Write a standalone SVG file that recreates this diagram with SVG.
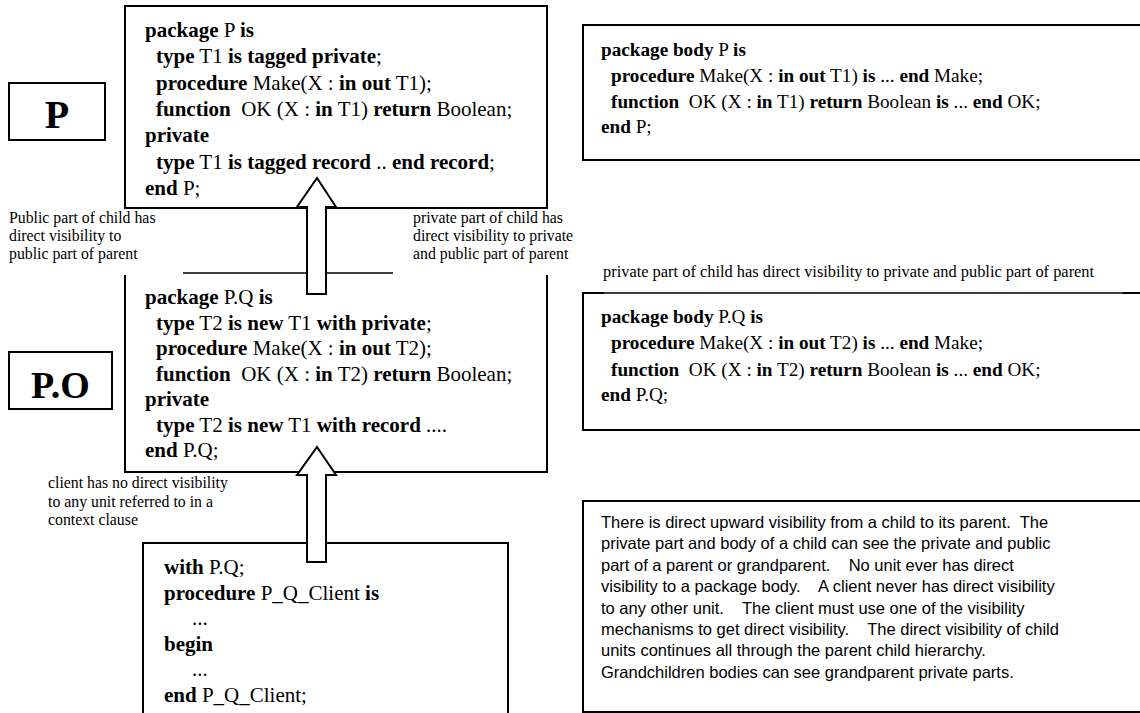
<svg xmlns="http://www.w3.org/2000/svg" width="1140" height="713" viewBox="0 0 1140 713">
<style>
.bg{fill:#fff}
.box{fill:#fff;stroke:#000;stroke-width:2}
.ln{fill:none;stroke:#000;stroke-width:2}
.ln1{fill:none;stroke:#000;stroke-width:1.5}
.code{font-family:"Liberation Serif","Times New Roman",serif;fill:#000}
.l{font-size:21px}
.r{font-size:19.2px}
.b{font-weight:bold}
.lab{font-family:"Liberation Serif","Times New Roman",serif;font-size:15.8px;fill:#000}
.labr{font-family:"Liberation Serif","Times New Roman",serif;font-size:16.4px;fill:#000}
.big{font-family:"Liberation Serif","Times New Roman",serif;font-weight:bold;fill:#000;text-anchor:middle}
.note{font-family:"Liberation Sans",Arial,sans-serif;font-size:16.5px;fill:#000}
.arrow{fill:#fff;stroke:#000;stroke-width:2;stroke-linejoin:miter}
</style>
<rect class="bg" x="0" y="0" width="1140" height="713"/>

<g id="node-P-label">
<rect class="box" x="9" y="83" width="96" height="57"/>
<text class="big" x="57" y="128" font-size="40">P</text>
</g>

<g id="node-P-spec">
<rect class="box" x="125" y="6" width="422" height="202"/>
<text class="code l" xml:space="preserve" x="145" y="37"><tspan class="b">package</tspan> P <tspan class="b">is</tspan></text>
<text class="code l" xml:space="preserve" x="156" y="63.3"><tspan class="b">type</tspan> T1 <tspan class="b">is tagged private</tspan>;</text>
<text class="code l" xml:space="preserve" x="156" y="89.6"><tspan class="b">procedure</tspan> Make(X : <tspan class="b">in out</tspan> T1);</text>
<text class="code l" xml:space="preserve" x="156" y="115.9"><tspan class="b">function</tspan>  OK (X : <tspan class="b">in</tspan> T1) <tspan class="b">return</tspan> Boolean;</text>
<text class="code l" xml:space="preserve" x="145" y="142.2"><tspan class="b">private</tspan></text>
<text class="code l" xml:space="preserve" x="156" y="168.5"><tspan class="b">type</tspan> T1 <tspan class="b">is tagged record</tspan> .. <tspan class="b">end record</tspan>;</text>
<text class="code l" xml:space="preserve" x="145" y="194.8"><tspan class="b">end</tspan> P;</text>
</g>

<g id="node-P-body">
<rect class="box" x="583" y="25" width="600" height="135"/>
<text class="code r" xml:space="preserve" x="601" y="56"><tspan class="b">package body</tspan> P <tspan class="b">is</tspan></text>
<text class="code r" xml:space="preserve" x="611" y="82"><tspan class="b">procedure</tspan> Make(X : <tspan class="b">in out</tspan> T1) <tspan class="b">is</tspan> ... <tspan class="b">end</tspan> Make;</text>
<text class="code r" xml:space="preserve" x="611" y="108"><tspan class="b">function</tspan>  OK (X : <tspan class="b">in</tspan> T1) <tspan class="b">return</tspan> Boolean <tspan class="b">is</tspan> ... <tspan class="b">end</tspan> OK;</text>
<text class="code r" xml:space="preserve" x="601" y="133"><tspan class="b">end</tspan> P;</text>
</g>

<g id="labels">
<text class="lab" x="9" y="223">Public part of child has</text>
<text class="lab" x="9" y="241">direct visibility to</text>
<text class="lab" x="9" y="259">public part of parent</text>
<text class="lab" x="413" y="223">private part of child has</text>
<text class="lab" x="413" y="241">direct visibility to private</text>
<text class="lab" x="413" y="259">and public part of parent</text>
<text class="labr" x="603" y="277">private part of child has direct visibility to private and public part of parent</text>
<text class="lab" x="48" y="488">client has no direct visibility</text>
<text class="lab" x="48" y="506.5">to any unit referred to in a</text>
<text class="lab" x="48" y="525">context clause</text>
</g>

<g id="node-PQ-label">
<rect class="box" x="9" y="352" width="103" height="57"/>
<text class="big" x="60.5" y="398" font-size="38">P.O</text>
</g>

<g id="node-PQ-spec">
<path class="ln1" d="M183 273 H393"/>
<path class="ln" d="M125 275 V472 H547 V275"/>
<text class="code l" xml:space="preserve" x="145" y="304"><tspan class="b">package</tspan> P.Q <tspan class="b">is</tspan></text>
<text class="code l" xml:space="preserve" x="156" y="329.5"><tspan class="b">type</tspan> T2 <tspan class="b">is new</tspan> T1 <tspan class="b">with private</tspan>;</text>
<text class="code l" xml:space="preserve" x="156" y="355"><tspan class="b">procedure</tspan> Make(X : <tspan class="b">in out</tspan> T2);</text>
<text class="code l" xml:space="preserve" x="156" y="380.5"><tspan class="b">function</tspan>  OK (X : <tspan class="b">in</tspan> T2) <tspan class="b">return</tspan> Boolean;</text>
<text class="code l" xml:space="preserve" x="145" y="406"><tspan class="b">private</tspan></text>
<text class="code l" xml:space="preserve" x="156" y="431.5"><tspan class="b">type</tspan> T2 <tspan class="b">is new</tspan> T1 <tspan class="b">with record</tspan> ....</text>
<text class="code l" xml:space="preserve" x="145" y="457"><tspan class="b">end</tspan> P.Q;</text>
</g>

<g id="node-PQ-body">
<path class="ln" d="M1141 430 H583 V293 H604"/>
<path class="ln1" d="M604 293 H1123"/>
<path class="ln" d="M1123 293 H1141"/>
<text class="code r" xml:space="preserve" x="601" y="323"><tspan class="b">package body</tspan> P.Q <tspan class="b">is</tspan></text>
<text class="code r" xml:space="preserve" x="611" y="349"><tspan class="b">procedure</tspan> Make(X : <tspan class="b">in out</tspan> T2) <tspan class="b">is</tspan> ... <tspan class="b">end</tspan> Make;</text>
<text class="code r" xml:space="preserve" x="611" y="376"><tspan class="b">function</tspan>  OK (X : <tspan class="b">in</tspan> T2) <tspan class="b">return</tspan> Boolean <tspan class="b">is</tspan> ... <tspan class="b">end</tspan> OK;</text>
<text class="code r" xml:space="preserve" x="601" y="401"><tspan class="b">end</tspan> P.Q;</text>
</g>

<g id="node-client">
<rect class="box" x="143" y="543" width="365" height="200"/>
<text class="code l" xml:space="preserve" x="164" y="574"><tspan class="b">with</tspan> P.Q;</text>
<text class="code l" xml:space="preserve" x="164" y="600"><tspan class="b">procedure</tspan> P_Q_Client <tspan class="b">is</tspan></text>
<text class="code l" xml:space="preserve" x="192" y="625">...</text>
<text class="code l" xml:space="preserve" x="164" y="651"><tspan class="b">begin</tspan></text>
<text class="code l" xml:space="preserve" x="192" y="676">...</text>
<text class="code l" xml:space="preserve" x="164" y="702"><tspan class="b">end</tspan> P_Q_Client;</text>
</g>

<g id="node-notes">
<rect class="box" x="583" y="501" width="600" height="211"/>
<text class="note" xml:space="preserve" x="601" y="528">There is direct upward visibility from a child to its parent.  The</text>
<text class="note" xml:space="preserve" x="601" y="549.4">private part and body of a child can see the private and public</text>
<text class="note" xml:space="preserve" x="601" y="570.8">part of a parent or grandparent.    No unit ever has direct</text>
<text class="note" xml:space="preserve" x="601" y="592.2">visibility to a package body.    A client never has direct visibility</text>
<text class="note" xml:space="preserve" x="601" y="613.6">to any other unit.    The client must use one of the visibility</text>
<text class="note" xml:space="preserve" x="601" y="635">mechanisms to get direct visibility.    The direct visibility of child</text>
<text class="note" xml:space="preserve" x="601" y="656.4">units continues all through the parent child hierarchy.</text>
<text class="note" xml:space="preserve" x="601" y="677.8">Grandchildren bodies can see grandparent private parts.</text>
</g>

<g id="connectors">
<polygon class="arrow" points="317,178 336,207 326,207 326,294 307,294 307,207 297,207"/>
<polygon class="arrow" points="317,447 336,475 326,475 326,562 307,562 307,475 297,475"/>
</g>
</svg>
